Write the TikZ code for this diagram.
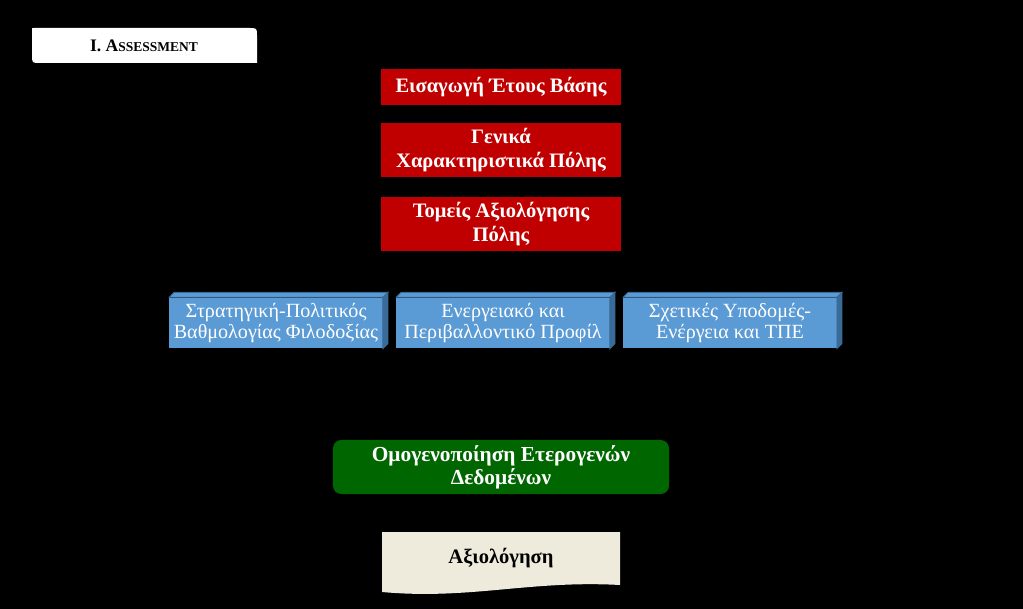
\documentclass[tikz,border=0pt]{standalone}
\usepackage{fontspec}
\setmainfont{Liberation Serif}
\usetikzlibrary{positioning,calc}
\definecolor{boxred}{HTML}{C00000}
\definecolor{boxblue}{HTML}{5B9BD5}
\definecolor{boxblueside}{HTML}{3A6A98}
\definecolor{boxgreen}{HTML}{006600}
\definecolor{papercream}{HTML}{EFEBDC}

\tikzset{
    redbox/.style={fill=boxred, text=white, font=\bfseries\fontsize{14.6}{16.5}\selectfont,
        minimum width=6cm, align=center, inner sep=0pt},
    bluebox/.style={fill=boxblue, text=white, font=\fontsize{14.3}{15.5}\selectfont,
        minimum width=5.33cm, minimum height=1.27cm, align=center, inner sep=0pt},
    greenbox/.style={fill=boxgreen, text=white, rounded corners=6pt, font=\bfseries\fontsize{15.2}{16.5}\selectfont,
        minimum width=8.4cm, minimum height=1.35cm, align=center, inner sep=0pt}
}

\begin{document}
\begin{tikzpicture}[x=0.025cm, y=-0.025cm]
        \useasboundingbox[fill=black] (0,0) rectangle (1023,609);

        % Title tab
        \fill[white] (34,28) -- (249,28) .. controls (257,28) .. (257,36) -- (257,63) -- (40,63)
            .. controls (32,63) .. (32,55) -- (32,30) .. controls (32,28) .. (34,28) -- cycle;
        \node[font=\bfseries\fontsize{12.5}{15}\selectfont] (title) at (144,46) {I. A{\fontsize{9.6}{12}\selectfont SSESSMENT}};

        % Input steps
        \node[redbox, minimum height=0.9cm] (baseyear) at (501,87) {Εισαγωγή Έτους Βάσης};
        \node[redbox, minimum height=1.35cm] (cityprofile) at (501,150) {Γενικά\\Χαρακτηριστικά Πόλης};
        \node[redbox, minimum height=1.35cm] (sectors) at (501,224) {Τομείς Αξιολόγησης\\Πόλης};

        % Assessment sectors
        \node[bluebox] (strategy) at (276,323) {Στρατηγική-Πολιτικός\\Βαθμολογίας Φιλοδοξίας};
        \node[bluebox] (energy) at (503,323) {Ενεργειακό και\\Περιβαλλοντικό Προφίλ};
        \node[bluebox] (infra) at (730,323) {Σχετικές Υποδομές-\\Ενέργεια και ΤΠΕ};
        \foreach \b in {strategy,energy,infra} {
            \filldraw[fill=boxblue, draw=boxblueside, line width=0.6pt] (\b.north west) -- ++(5,-5)
                -- ($(\b.north east)+(5,-5)$) -- (\b.north east) -- cycle;
            \filldraw[fill=boxblueside, draw=boxblueside, line width=0.6pt] (\b.north east) -- ++(5,-5)
                -- ($(\b.south east)+(5,-5)$) -- (\b.south east) -- cycle;
        }

        % Harmonisation
        \node[greenbox] (harmonise) at (501,467) {Ομογενοποίηση Ετερογενών\\Δεδομένων};

        % Result document
        \fill[papercream] (382,532) -- (620,532) -- (620,585)
            .. controls (530,580) and (470,600) .. (382,592) -- cycle;
        \node[font=\bfseries\fontsize{14.6}{16.5}\selectfont] (result) at (501,558) {Αξιολόγηση};
\end{tikzpicture}
\end{document}
